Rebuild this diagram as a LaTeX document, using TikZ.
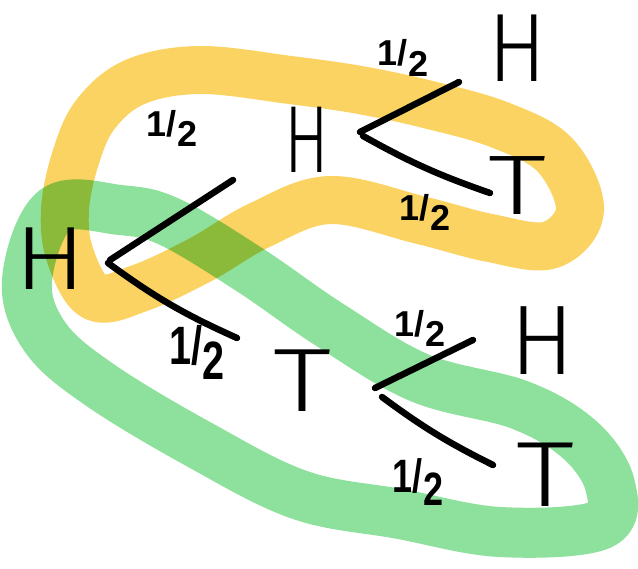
\documentclass[tikz,border=0pt]{standalone}
\usepackage{fontspec}
\setmainfont{Liberation Sans}
\newfontfamily\handfont{Fira Sans Light}
\definecolor{marigold}{RGB}{250,211,98}
\definecolor{mint}{RGB}{142,225,156}
% probability label: a tall 1, a slash and a dropped 2
\newcommand{\halfprob}{1/\raisebox{-0.28em}{2}}
\begin{document}
\begin{tikzpicture}[x=1pt,y=-1pt,
  marker/.style={line width=48pt, line cap=round, line join=round},
  pen/.style={line width=6.5pt, line cap=round, black},
  letter/.style={inner sep=0pt, font=\handfont\fontsize{90}{90}\selectfont},
  prob/.style={inner sep=0pt, font=\bfseries\fontsize{36}{36}\selectfont}]
\useasboundingbox (0,0) rectangle (638,569);

% highlighter loops
\draw[marker, marigold] plot[smooth cycle, tension=0.6] coordinates {
  (95,297) (70,255) (65,210) (75,160) (95,115) (135,82) (200,70)
  (290,80) (360,90) (430,105) (500,125) (555,155) (580,210) (550,245)
  (490,238) (420,220) (330,200) (260,225) (200,260) (140,288)};
\draw[marker, mint, line width=50pt, blend mode=multiply] plot[smooth cycle, tension=0.6] coordinates {
  (27,280) (55,210) (120,210) (170,222) (250,270) (330,325) (420,378)
  (520,405) (580,440) (610,485) (600,525) (500,532) (400,514) (300,495)
  (200,445) (100,385) (45,337)};

% outcomes
\node[letter] (h0) at (50,259) {\scalebox{1.19}[1]{H}};
\node[letter] (h1) at (307,140) {\scalebox{0.74}[1.06]{H}};
\node[letter] (t1) at (302,381) {\scalebox{1.3}[1.0]{T}};
\node[letter] (hh) at (517,48) {\scalebox{0.96}[1.08]{H}};
\node[letter] (ht) at (517,186) {\scalebox{1.3}[0.94]{T}};
\node[letter] (th) at (542,341) {\scalebox{1.06}[1.1]{H}};
\node[letter] (tt) at (545,475) {\scalebox{1.3}[1.03]{T}};

% branch ends
\coordinate (r0) at (110,260);
\coordinate (r1) at (108,263);
\coordinate (ru) at (233,180);
\coordinate (rd) at (237,338);
\coordinate (a0) at (360,132);
\coordinate (a1) at (363,136);
\coordinate (au) at (459,82);
\coordinate (ad) at (490,193);
\coordinate (b0) at (375,388);
\coordinate (b1) at (382,397);
\coordinate (bu) at (473,340);
\coordinate (bd) at (493,465);

\draw[pen] (ru) -- (r0);
\draw[pen] (r1) to[bend right=6] (rd);
\draw[pen] (au) -- (a0);
\draw[pen] (a1) to[bend right=5] (ad);
\draw[pen] (bu) -- (b0);
\draw[pen] (b1) to[bend right=5] (bd);

% branch probabilities
\node[prob] (p0) at (172,128) {\halfprob};
\node[prob] (p1) at (197,352) {\scalebox{1.1}[1.5]{\halfprob}};
\node[prob] (p2) at (403,58) {\halfprob};
\node[prob] (p3) at (425,212) {\halfprob};
\node[prob] (p4) at (420,328) {\halfprob};
\node[prob] (p5) at (418,482) {\scalebox{1}[1.3]{\halfprob}};
\end{tikzpicture}
\end{document}
